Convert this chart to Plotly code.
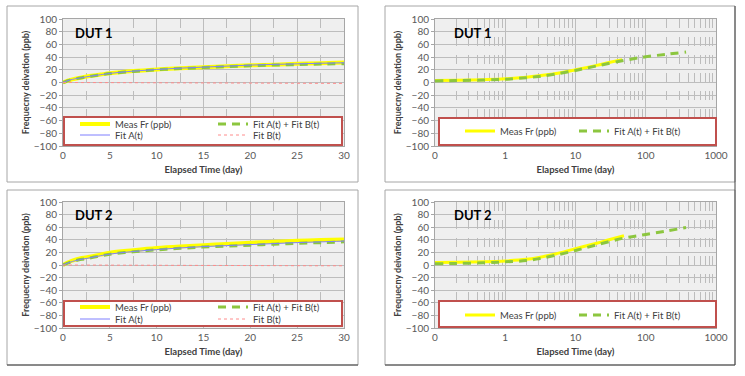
import plotly.graph_objects as go

# ---------------- data ----------------
# Linear-time panels (0..30 days)
days_lin = [0, 0.5, 1, 2, 3, 4, 5, 7.5, 10, 12.5, 15, 17.5, 20, 22.5, 25, 27.5, 30]

dut1_meas_lin = [0, 3, 5, 8, 10.5, 12.5, 14.5, 18, 20.5, 22.5, 24, 25.5, 27, 28, 29.5, 30.5, 31.5]
dut1_fitsum_lin = [0, 2.8, 4.8, 7.6, 10, 12, 14, 17.5, 20, 22, 23.5, 25, 26.5, 27.5, 28.2, 29, 29.6]
dut1_fitA_lin = [0, 2.8, 4.9, 7.7, 10.2, 12.2, 14.3, 17.9, 20.5, 22.6, 24.2, 25.8, 27.4, 28.5, 29.4, 30.3, 31]
dut1_fitB_lin = [0, 0, -0.1, -0.1, -0.2, -0.2, -0.3, -0.4, -0.5, -0.6, -0.7, -0.8, -0.9, -1.0, -1.2, -1.3, -1.4]

dut2_meas_lin = [0, 4, 7, 11, 13.5, 16.5, 19.5, 23.5, 27, 29.5, 31.5, 33.5, 35.5, 37, 38.5, 39.5, 40.5]
dut2_fitsum_lin = [0, 3, 5.5, 9, 11.5, 14.5, 17, 21, 24, 26.5, 28.5, 30, 31.5, 33, 34.5, 35.5, 36.8]
dut2_fitA_lin = [0, 3, 5.6, 9.1, 11.7, 14.7, 17.3, 21.4, 24.5, 27.1, 29.2, 30.8, 32.4, 34, 35.6, 36.7, 38]
dut2_fitB_lin = [0, 0, -0.1, -0.1, -0.2, -0.2, -0.3, -0.4, -0.5, -0.6, -0.7, -0.8, -0.9, -1.0, -1.1, -1.2, -1.2]

# Log-time panels
days_meas_log1 = [0.1, 0.2, 0.5, 1, 2, 3, 5, 10, 20, 30, 46]
dut1_meas_log = [3, 3.5, 4.5, 5.8, 8.4, 10.5, 13.7, 20, 27, 31.5, 36]
days_fit_log = [0.1, 0.2, 0.5, 1, 2, 3, 5, 10, 20, 50, 100, 200, 375]
dut1_fitsum_log = [2.5, 3, 4, 5, 7.5, 9.5, 13, 19, 26, 35, 40.5, 44.5, 48]

days_meas_log2 = [0.1, 0.2, 0.5, 1, 2, 3, 5, 10, 20, 30, 49]
dut2_meas_log = [3.8, 4.3, 5.2, 6.5, 9, 12, 17, 26, 34.6, 40, 46.5]
dut2_fitsum_log = [2, 2.5, 3.5, 5, 7, 10, 15, 23, 32, 43, 48.5, 54, 59.5]

log_tickvals = [0.1, 1, 10, 100, 1000]
log_ticktext = ["0", "1", "10", "100", "1000"]
log_minor = [m * 10 ** k for k in range(-1, 3) for m in range(2, 10)]

# ---------------- styles ----------------
W, H = 745, 376
FONT = "Lato"
YEL = "#ffff00"
GRN = "#8cc63f"
BLU = "#7f7fff"
PNK = "#ff8c8c"
RED = "#c0504d"
TXT = "#404040"


def px_x(p):
    return p / W


def px_y(p):
    return 1 - p / H


fig = go.Figure()

panels = [
    dict(xa="x", ya="y", lin=True, label="DUT 1",
         meas=(days_lin, dut1_meas_lin), fit=(days_lin, dut1_fitsum_lin),
         fa=(days_lin, dut1_fitA_lin), fb=(days_lin, dut1_fitB_lin),
         lg=("legend", "legend2")),
    dict(xa="x2", ya="y2", lin=False, label="DUT 1",
         meas=(days_meas_log1, dut1_meas_log), fit=(days_fit_log, dut1_fitsum_log),
         lg=("legend3",)),
    dict(xa="x3", ya="y3", lin=True, label="DUT 2",
         meas=(days_lin, dut2_meas_lin), fit=(days_lin, dut2_fitsum_lin),
         fa=(days_lin, dut2_fitA_lin), fb=(days_lin, dut2_fitB_lin),
         lg=("legend4", "legend5")),
    dict(xa="x4", ya="y4", lin=False, label="DUT 2",
         meas=(days_meas_log2, dut2_meas_log), fit=(days_fit_log, dut2_fitsum_log),
         lg=("legend6",)),
]

for p in panels:
    lw_meas = 4 if p["lin"] else 3
    fig.add_trace(go.Scatter(x=p["meas"][0], y=p["meas"][1], mode="lines",
                             name="Meas Fr (ppb)", line=dict(color=YEL, width=lw_meas, shape="spline"),
                             xaxis=p["xa"], yaxis=p["ya"], legend=p["lg"][0]))
    fig.add_trace(go.Scatter(x=p["fit"][0], y=p["fit"][1], mode="lines",
                             name="Fit A(t) + Fit B(t)",
                             line=dict(color=GRN, width=3, dash="8px,6px", shape="spline"),
                             xaxis=p["xa"], yaxis=p["ya"], legend=p["lg"][0]))
    if p["lin"]:
        fig.add_trace(go.Scatter(x=p["fa"][0], y=p["fa"][1], mode="lines",
                                 name="Fit A(t)", line=dict(color=BLU, width=1, shape="spline"),
                                 xaxis=p["xa"], yaxis=p["ya"], legend=p["lg"][1]))
        fig.add_trace(go.Scatter(x=p["fb"][0], y=p["fb"][1], mode="lines",
                                 name="Fit B(t)", line=dict(color=PNK, width=1, dash="dot"),
                                 xaxis=p["xa"], yaxis=p["ya"], legend=p["lg"][1]))

# ---------------- axes ----------------
xdom_l = [px_x(63), px_x(344)]
xdom_r = [px_x(435), px_x(716)]
ydom_t = [px_y(146), px_y(19)]
ydom_b = [px_y(328), px_y(202)]

tickfont = dict(family=FONT, size=10, color="#595959")
titlefont = dict(family=FONT, size=9.5, color=TXT, weight="bold")
grid_major = "#bdbdbd"
grid_minor = "#bcbcbc"


def xlin(dom, anchor):
    return dict(domain=dom, anchor=anchor, range=[0, 30], dtick=5, tick0=0, automargin=False,
                showgrid=True, gridcolor=grid_major, gridwidth=1,
                minor=dict(dtick=2.5, showgrid=True, gridcolor=grid_minor, griddash="dash", gridwidth=1),
                showline=True, linecolor="#a6a6a6", mirror=True, zeroline=False,
                ticks="", tickfont=tickfont,
                title=dict(text="Elapsed Time (day)", font=titlefont, standoff=6))


def xlog(dom, anchor):
    return dict(domain=dom, anchor=anchor, type="log", range=[-1, 3], automargin=False,
                tickvals=log_tickvals, ticktext=log_ticktext,
                showgrid=True, gridcolor=grid_major, gridwidth=1,
                minor=dict(tickvals=log_minor, showgrid=True, gridcolor=grid_minor, griddash="dash", gridwidth=1),
                showline=True, linecolor="#a6a6a6", mirror=True, zeroline=False,
                ticks="", tickfont=tickfont,
                title=dict(text="Elapsed Time (day)", font=titlefont, standoff=6))


def yax(dom, anchor):
    return dict(domain=dom, anchor=anchor, range=[-100, 100], dtick=20, tick0=0, automargin=False,
                showgrid=True, gridcolor=grid_major, gridwidth=1,
                showline=True, linecolor="#a6a6a6", mirror=True, zeroline=False,
                ticks="outside", ticklen=3, tickcolor="#a6a6a6", tickfont=tickfont,
                title=dict(text="Frequecny deivation (ppb)", font=dict(family=FONT, size=9, color=TXT, weight="bold"), standoff=2))


leg_font = dict(family=FONT, size=9.5, color=TXT)


def legend(xpx, ypx, ew):
    return dict(x=px_x(xpx), y=px_y(ypx), xanchor="left", yanchor="middle",
                orientation="h", entrywidth=ew, entrywidthmode="pixels",
                bgcolor="rgba(0,0,0,0)", borderwidth=0, font=leg_font,
                tracegroupgap=0, itemclick=False)


fig.update_layout(
    width=W, height=H, margin=dict(l=0, r=0, t=0, b=0),
    paper_bgcolor="white", plot_bgcolor="#efefef",
    font=dict(family=FONT, color=TXT),
    xaxis=xlin(xdom_l, "y"), yaxis=yax(ydom_t, "x"),
    xaxis2=xlog(xdom_r, "y2"), yaxis2=yax(ydom_t, "x2"),
    xaxis3=xlin(xdom_l, "y3"), yaxis3=yax(ydom_b, "x3"),
    xaxis4=xlog(xdom_r, "y4"), yaxis4=yax(ydom_b, "x4"),
    legend=legend(75, 124, 93),
    legend2=legend(75, 135, 93),
    legend3=legend(460, 131, 69),
    legend4=legend(75, 307, 93),
    legend5=legend(75, 319, 93),
    legend6=legend(460, 315, 69),
    showlegend=True,
)

# ---------------- frames, legend boxes, labels ----------------
shapes = []
frames = [(7, 6, 358, 182), (385, 6, 735, 182), (7, 190, 358, 365), (385, 190, 735, 365)]
for x0, y0, x1, y1 in frames:
    shapes.append(dict(type="rect", xref="paper", yref="paper", x0=px_x(x0), x1=px_x(x1),
                       y0=px_y(y1), y1=px_y(y0), line=dict(color="#a6a6a6", width=1), layer="below"))
shapes.append(dict(type="line", xref="paper", yref="paper", x0=px_x(7), x1=px_x(358), y0=px_y(365), y1=px_y(365),
                   line=dict(color="#404040", width=1)))
shapes.append(dict(type="line", xref="paper", yref="paper", x0=px_x(385), x1=px_x(735), y0=px_y(365), y1=px_y(365),
                   line=dict(color="#404040", width=1)))
shapes.append(dict(type="line", xref="paper", yref="paper", x0=px_x(735), x1=px_x(735), y0=px_y(365), y1=px_y(6),
                   line=dict(color="#404040", width=1)))

boxes = [(64, 117, 342, 145), (439, 118, 716, 145), (64, 301, 342, 326), (439, 301, 716, 327)]
for x0, y0, x1, y1 in boxes:
    shapes.append(dict(type="rect", xref="paper", yref="paper", x0=px_x(x0), x1=px_x(x1),
                       y0=px_y(y1), y1=px_y(y0), fillcolor="white",
                       line=dict(color=RED, width=2), layer="above"))
fig.update_layout(shapes=shapes)

labels = [(73, 33, "DUT 1"), (452, 33, "DUT 1"), (73, 215, "DUT 2"), (452, 215, "DUT 2")]
for xp, yp, t in labels:
    fig.add_annotation(x=px_x(xp), y=px_y(yp), xref="paper", yref="paper", text="<b>%s</b>" % t,
                       showarrow=False, xanchor="left", yanchor="middle",
                       font=dict(family=FONT, size=13, color="#000000"))

fig.write_html("out.html", config={"displayModeBar": False},
               post_script="document.body.style.margin='0px';")
